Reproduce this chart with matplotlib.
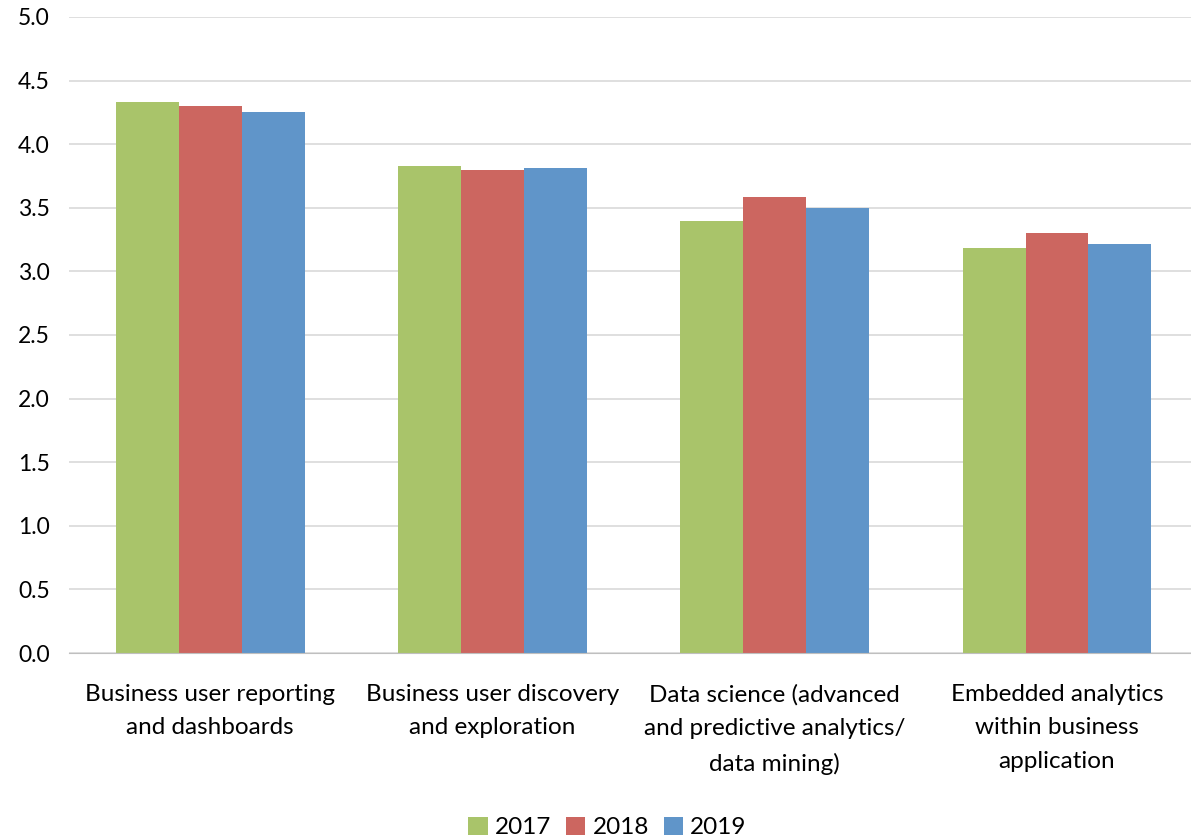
import numpy as np
import matplotlib
matplotlib.use("Agg")
import matplotlib.pyplot as plt

plt.rcParams["font.family"] = ["Lato", "DejaVu Sans"]
plt.rcParams["font.size"] = 15

categories = ["Business user reporting\nand dashboards",
              "Business user discovery\nand exploration",
              "Data science (advanced\nand predictive analytics/\ndata mining)",
              "Embedded analytics\nwithin business\napplication"]
years = ["2017", "2018", "2019"]
v2017 = [4.33, 3.83, 3.40, 3.18]
v2018 = [4.30, 3.80, 3.585, 3.30]
v2019 = [4.25, 3.81, 3.50, 3.215]
colors = ["#A9C46A", "#CC6660", "#6095C9"]

fig = plt.figure(figsize=(11.91, 8.4), dpi=100)
ax = fig.add_axes([0.058, 0.2226, 0.948, 0.7572])

x = np.arange(len(categories))
w = 0.223
for i, (vals, c, lab) in enumerate(zip([v2017, v2018, v2019], colors, years)):
    ax.bar(x + (i - 1)*w, vals, w, color=c, label=lab, zorder=3)

ax.set_xlim(-0.5, 3.5)
ax.set_ylim(0, 5)
ax.set_yticks(np.arange(0, 5.01, 0.5))
ax.set_yticklabels(["{:.1f}".format(v) for v in np.arange(0, 5.01, 0.5)], fontsize=16.5)
ax.set_xticks(x)
ax.set_xticklabels(categories, fontsize=17.5, linespacing=1.75)
ax.tick_params(length=0)
ax.tick_params(axis="x", pad=22)
ax.tick_params(axis="y", pad=14)
ax.grid(axis="y", color="#D9D9D9", linewidth=1.2, zorder=0)
for s in ["top", "right", "left"]:
    ax.spines[s].set_visible(False)
ax.spines["bottom"].set_color("#BFBFBF")
ax.spines["bottom"].set_zorder(4)

fig.legend(loc="center", bbox_to_anchor=(0.51, 0.015), ncol=3, frameon=False,
           fontsize=17.5, handlelength=0.8, handleheight=0.8, handletextpad=0.3,
           columnspacing=0.6)

fig.savefig("out.png", dpi=100)
